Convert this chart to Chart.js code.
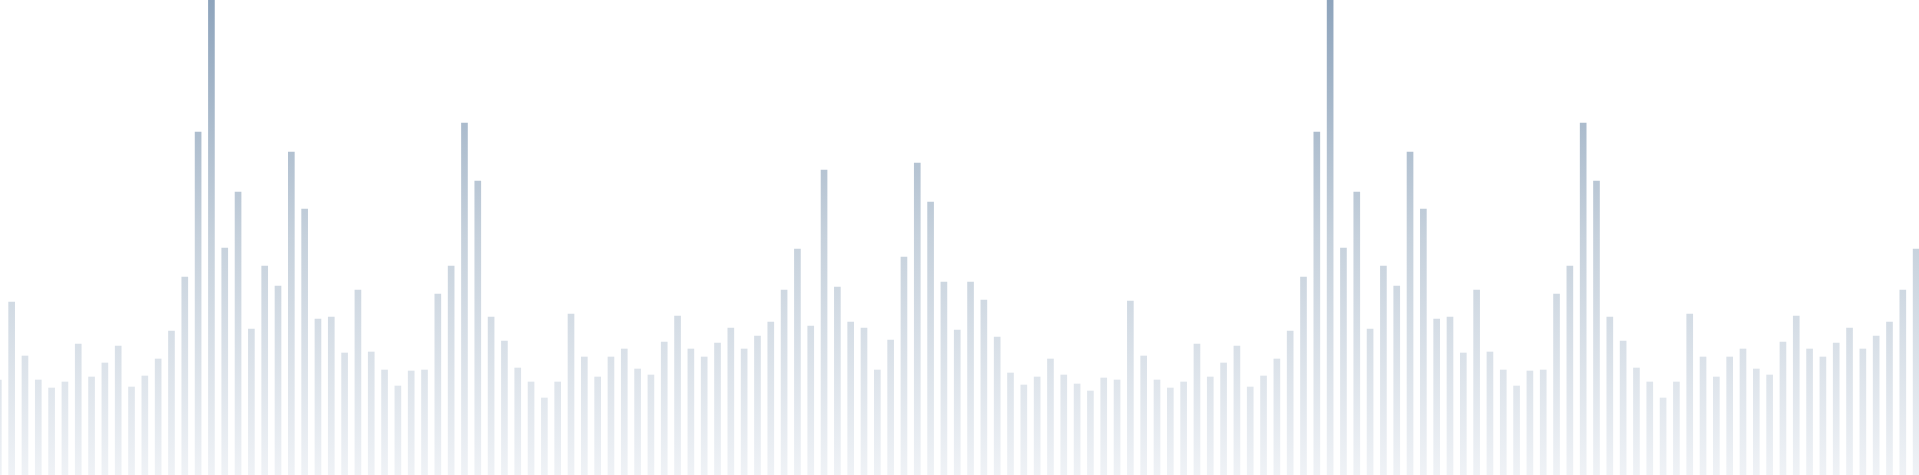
<!DOCTYPE html>
<html>
<head>
<meta charset="utf-8">
<script src="https://cdn.jsdelivr.net/npm/chart.js@4"></script>
<style>
  html, body { margin: 0; padding: 0; background: #fff; }
  #wrap { width: 1919px; height: 475px; position: relative; }
</style>
</head>
<body>
<div id="wrap"><canvas id="bars"></canvas></div>
<script>
// bar heights (one per bin, left to right)
const values = [
  95, 173, 119, 95, 87, 93, 131, 98, 112, 129, 88, 99, 116, 144, 198, 343,
  480, 227, 283, 146, 209, 189, 323, 266, 156, 158, 122, 185, 123, 105, 89, 104,
  105, 181, 209, 352, 294, 158, 134, 107, 93, 77, 93, 161, 118, 98, 118, 126,
  106, 100, 133, 159, 126, 118, 132, 147, 126, 139, 153, 185, 226, 149, 305, 188,
  153, 147, 105, 135, 218, 312, 273, 193, 145, 193, 175, 138, 102, 90, 98, 116,
  100, 91, 84, 97, 95, 174, 119, 95, 87, 93, 131, 98, 112, 129, 88, 99,
  116, 144, 198, 343, 480, 227, 283, 146, 209, 189, 323, 266, 156, 158, 122, 185,
  123, 105, 89, 104, 105, 181, 209, 352, 294, 158, 134, 107, 93, 77, 93, 161,
  118, 98, 118, 126, 106, 100, 133, 159, 126, 118, 132, 147, 126, 139, 153, 185,
  226
];
const bins = values.map((v, i) => i);

const yMax = 475;
const xMin = 0.125;
const xMax = 144.216;

function barFill(ctx) {
  const area = ctx.chart.chartArea;
  if (!area) return "#c6d1dc";
  const g = ctx.chart.ctx.createLinearGradient(0, area.top, 0, area.bottom);
  g.addColorStop(0, "#8ea4bc");
  g.addColorStop(0.5, "#c6d1dc");
  g.addColorStop(1, "#eff2f6");
  return g;
}

new Chart(document.getElementById("bars"), {
  type: "bar",
  data: {
    labels: bins,
    datasets: [{
      data: values,
      backgroundColor: barFill,
      borderWidth: 0,
      barThickness: 6,
    }],
  },
  options: {
    responsive: true,
    maintainAspectRatio: false,
    animation: false,
    layout: { padding: 0 },
    plugins: {
      legend: { display: false },
      tooltip: { enabled: false },
    },
    scales: {
      x: { type: "linear", min: xMin, max: xMax, display: false, offset: false },
      y: { min: 0, max: yMax, display: false },
    },
  },
});
</script>
</body>
</html>
